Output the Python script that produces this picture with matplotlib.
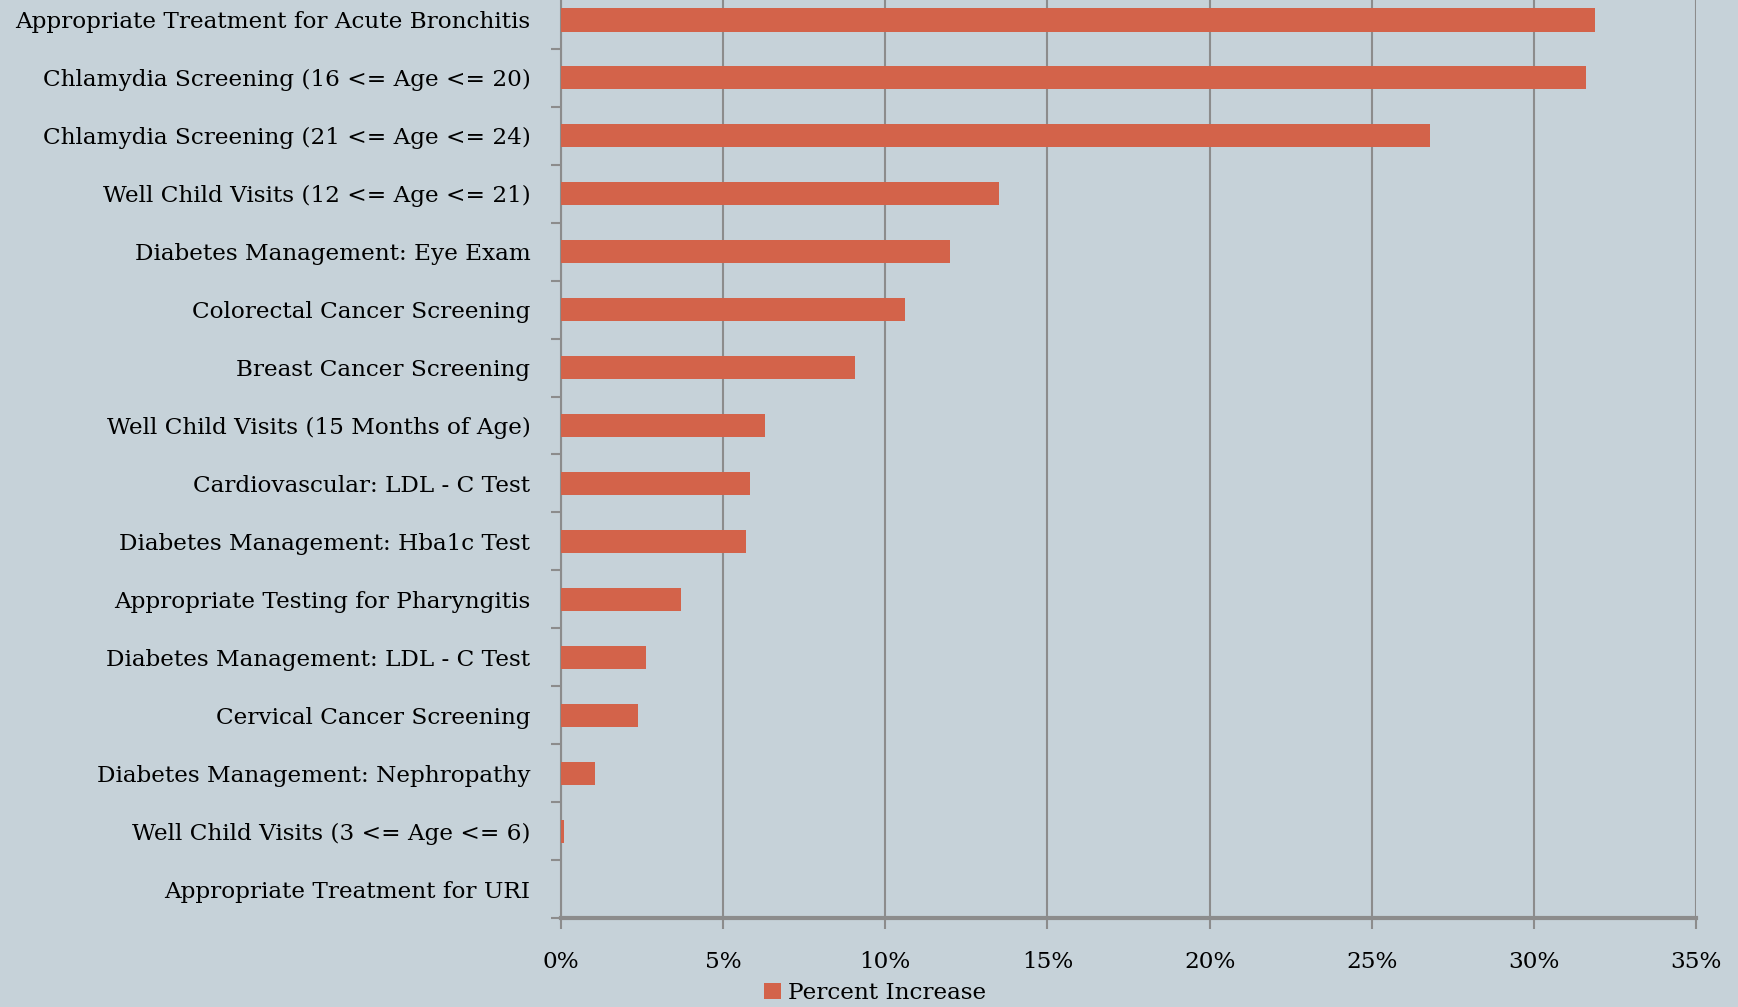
import matplotlib
matplotlib.use("Agg")
import matplotlib.pyplot as plt
import numpy as np
from matplotlib.ticker import FixedLocator, FuncFormatter

categories = [
    "Appropriate Treatment for Acute Bronchitis",
    "Chlamydia Screening (16 <= Age <= 20)",
    "Chlamydia Screening (21 <= Age <= 24)",
    "Well Child Visits (12 <= Age <= 21)",
    "Diabetes Management: Eye Exam",
    "Colorectal Cancer Screening",
    "Breast Cancer Screening",
    "Well Child Visits (15 Months of Age)",
    "Cardiovascular: LDL - C Test",
    "Diabetes Management: Hba1c Test",
    "Appropriate Testing for Pharyngitis",
    "Diabetes Management: LDL - C Test",
    "Cervical Cancer Screening",
    "Diabetes Management: Nephropathy",
    "Well Child Visits (3 <= Age <= 6)",
    "Appropriate Treatment for URI",
]
percent_increase = [31.9, 31.6, 26.8, 13.5, 12.0, 10.6, 9.06, 6.3, 5.84, 5.7,
                    3.7, 2.63, 2.36, 1.06, 0.1, 0.0]
xticks = [0, 5, 10, 15, 20, 25, 30, 35]

bg = "#c6d2d9"
bar_color = "#d3634a"
grid_color = "#8c8c8c"
font = ["DejaVu Serif"]

fig = plt.figure(figsize=(17.38, 10.07), dpi=100, facecolor=bg)
ax = fig.add_axes([561/1738, 1-918/1007, (1696-561)/1738, (918+9)/1007])
ax.set_facecolor(bg)

n = len(categories)
y = np.arange(n)[::-1]
ax.barh(y, percent_increase, height=0.4, color=bar_color, zorder=3, label="Percent Increase")

ax.set_xlim(0, 35)
ax.set_ylim(-0.5, n - 0.5)
ax.xaxis.set_major_locator(FixedLocator(xticks))
ax.xaxis.set_major_formatter(FuncFormatter(lambda v, p: f"{int(v)}%"))
ax.grid(axis="x", color=grid_color, linewidth=1.5, zorder=0)
ax.set_yticks(y)
ax.set_yticklabels(categories, fontsize=16.7, family=font)
ax.set_yticks(np.arange(-0.5, n, 1.0), minor=True)
ax.tick_params(axis="y", which="major", length=0, pad=22)
ax.tick_params(axis="y", which="minor", length=7, width=1.5, color=grid_color)
ax.tick_params(axis="x", which="major", length=8, width=1.5, color=grid_color, pad=16, labelsize=16.7)
for lab in ax.get_xticklabels():
    lab.set_family(font)

for s in ["top", "right"]:
    ax.spines[s].set_visible(False)
ax.spines["left"].set_color(grid_color)
ax.spines["left"].set_linewidth(1.5)
ax.spines["bottom"].set_color(grid_color)
ax.spines["bottom"].set_linewidth(3)

leg = fig.legend(loc="center", bbox_to_anchor=(875/1738, 1-993/1007), frameon=False,
                 handlelength=0.7, handleheight=0.7, handletextpad=0.3,
                 prop={"family": font, "size": 16.7})

fig.savefig("out.png", dpi=100, facecolor=bg)
